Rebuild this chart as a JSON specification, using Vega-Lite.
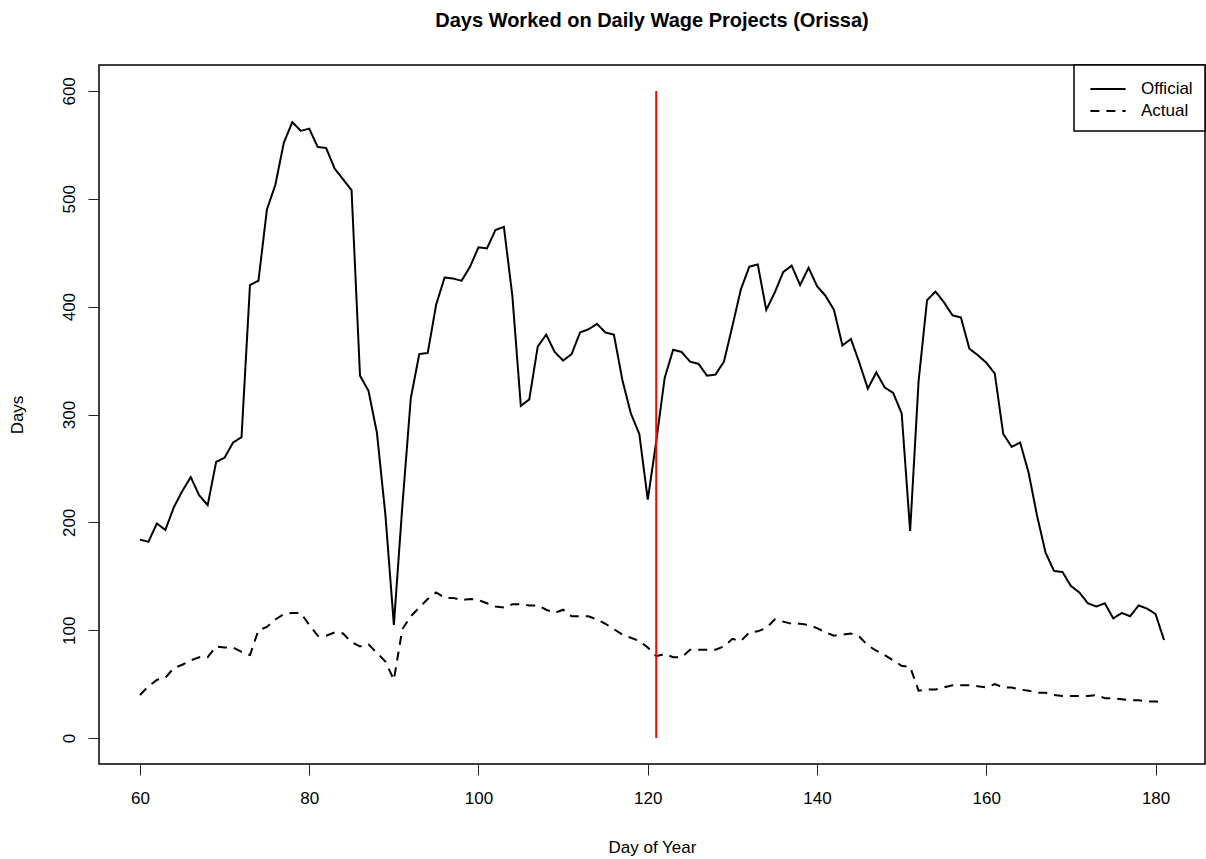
{
  "$schema": "https://vega.github.io/schema/vega-lite/v6.json",
  "width": 1106,
  "height": 699,
  "autosize": {"type": "none"},
  "padding": {"left": 99, "top": 65, "right": 1, "bottom": 95},
  "title": {"text": "Days Worked on Daily Wage Projects (Orissa)", "fontSize": 20, "fontWeight": "bold", "font": "Liberation Sans", "color": "black", "anchor": "middle", "offset": 33},
  "datasets": {
    "series": [
      {"day":60,"series":"Official","value":184},{"day":61,"series":"Official","value":182},{"day":62,"series":"Official","value":199},{"day":63,"series":"Official","value":193},{"day":64,"series":"Official","value":214},{"day":65,"series":"Official","value":229},{"day":66,"series":"Official","value":242},{"day":67,"series":"Official","value":225},{"day":68,"series":"Official","value":216},{"day":69,"series":"Official","value":256},{"day":70,"series":"Official","value":260},{"day":71,"series":"Official","value":274},{"day":72,"series":"Official","value":279},{"day":73,"series":"Official","value":420},{"day":74,"series":"Official","value":424},{"day":75,"series":"Official","value":490},{"day":76,"series":"Official","value":513},{"day":77,"series":"Official","value":552},{"day":78,"series":"Official","value":571},{"day":79,"series":"Official","value":563},{"day":80,"series":"Official","value":565},{"day":81,"series":"Official","value":548},{"day":82,"series":"Official","value":547},{"day":83,"series":"Official","value":528},{"day":84,"series":"Official","value":518},{"day":85,"series":"Official","value":508},{"day":86,"series":"Official","value":336},{"day":87,"series":"Official","value":322},{"day":88,"series":"Official","value":283},{"day":89,"series":"Official","value":207},{"day":90,"series":"Official","value":105},{"day":91,"series":"Official","value":215},{"day":92,"series":"Official","value":315},{"day":93,"series":"Official","value":356},{"day":94,"series":"Official","value":357},{"day":95,"series":"Official","value":402},{"day":96,"series":"Official","value":427},{"day":97,"series":"Official","value":426},{"day":98,"series":"Official","value":424},{"day":99,"series":"Official","value":437},{"day":100,"series":"Official","value":455},{"day":101,"series":"Official","value":454},{"day":102,"series":"Official","value":471},{"day":103,"series":"Official","value":474},{"day":104,"series":"Official","value":410},{"day":105,"series":"Official","value":308},{"day":106,"series":"Official","value":314},{"day":107,"series":"Official","value":363},{"day":108,"series":"Official","value":374},{"day":109,"series":"Official","value":358},{"day":110,"series":"Official","value":350},{"day":111,"series":"Official","value":356},{"day":112,"series":"Official","value":376},{"day":113,"series":"Official","value":379},{"day":114,"series":"Official","value":384},{"day":115,"series":"Official","value":376},{"day":116,"series":"Official","value":374},{"day":117,"series":"Official","value":332},{"day":118,"series":"Official","value":301},{"day":119,"series":"Official","value":282},{"day":120,"series":"Official","value":221},{"day":121,"series":"Official","value":275},{"day":122,"series":"Official","value":334},{"day":123,"series":"Official","value":360},{"day":124,"series":"Official","value":358},{"day":125,"series":"Official","value":349},{"day":126,"series":"Official","value":347},{"day":127,"series":"Official","value":336},{"day":128,"series":"Official","value":337},{"day":129,"series":"Official","value":349},{"day":130,"series":"Official","value":382},{"day":131,"series":"Official","value":416},{"day":132,"series":"Official","value":437},{"day":133,"series":"Official","value":439},{"day":134,"series":"Official","value":397},{"day":135,"series":"Official","value":413},{"day":136,"series":"Official","value":432},{"day":137,"series":"Official","value":438},{"day":138,"series":"Official","value":420},{"day":139,"series":"Official","value":436},{"day":140,"series":"Official","value":419},{"day":141,"series":"Official","value":410},{"day":142,"series":"Official","value":397},{"day":143,"series":"Official","value":364},{"day":144,"series":"Official","value":370},{"day":145,"series":"Official","value":348},{"day":146,"series":"Official","value":324},{"day":147,"series":"Official","value":339},{"day":148,"series":"Official","value":325},{"day":149,"series":"Official","value":320},{"day":150,"series":"Official","value":301},{"day":151,"series":"Official","value":192},{"day":152,"series":"Official","value":331},{"day":153,"series":"Official","value":406},{"day":154,"series":"Official","value":414},{"day":155,"series":"Official","value":404},{"day":156,"series":"Official","value":392},{"day":157,"series":"Official","value":390},{"day":158,"series":"Official","value":361},{"day":159,"series":"Official","value":355},{"day":160,"series":"Official","value":348},{"day":161,"series":"Official","value":338},{"day":162,"series":"Official","value":282},{"day":163,"series":"Official","value":270},{"day":164,"series":"Official","value":274},{"day":165,"series":"Official","value":246},{"day":166,"series":"Official","value":206},{"day":167,"series":"Official","value":172},{"day":168,"series":"Official","value":155},{"day":169,"series":"Official","value":154},{"day":170,"series":"Official","value":141},{"day":171,"series":"Official","value":135},{"day":172,"series":"Official","value":125},{"day":173,"series":"Official","value":122},{"day":174,"series":"Official","value":125},{"day":175,"series":"Official","value":111},{"day":176,"series":"Official","value":116},{"day":177,"series":"Official","value":113},{"day":178,"series":"Official","value":123},{"day":179,"series":"Official","value":120},{"day":180,"series":"Official","value":115},{"day":181,"series":"Official","value":91},
      {"day":60,"series":"Actual","value":40},{"day":61,"series":"Actual","value":48},{"day":62,"series":"Actual","value":54},{"day":63,"series":"Actual","value":56},{"day":64,"series":"Actual","value":65},{"day":65,"series":"Actual","value":68},{"day":66,"series":"Actual","value":72},{"day":67,"series":"Actual","value":75},{"day":68,"series":"Actual","value":75},{"day":69,"series":"Actual","value":85},{"day":70,"series":"Actual","value":84},{"day":71,"series":"Actual","value":84},{"day":72,"series":"Actual","value":80},{"day":73,"series":"Actual","value":77},{"day":74,"series":"Actual","value":100},{"day":75,"series":"Actual","value":103},{"day":76,"series":"Actual","value":110},{"day":77,"series":"Actual","value":115},{"day":78,"series":"Actual","value":116},{"day":79,"series":"Actual","value":116},{"day":80,"series":"Actual","value":105},{"day":81,"series":"Actual","value":95},{"day":82,"series":"Actual","value":95},{"day":83,"series":"Actual","value":98},{"day":84,"series":"Actual","value":97},{"day":85,"series":"Actual","value":89},{"day":86,"series":"Actual","value":85},{"day":87,"series":"Actual","value":87},{"day":88,"series":"Actual","value":79},{"day":89,"series":"Actual","value":71},{"day":90,"series":"Actual","value":54},{"day":91,"series":"Actual","value":101},{"day":92,"series":"Actual","value":113},{"day":93,"series":"Actual","value":121},{"day":94,"series":"Actual","value":129},{"day":95,"series":"Actual","value":135},{"day":96,"series":"Actual","value":130},{"day":97,"series":"Actual","value":130},{"day":98,"series":"Actual","value":128},{"day":99,"series":"Actual","value":129},{"day":100,"series":"Actual","value":128},{"day":101,"series":"Actual","value":125},{"day":102,"series":"Actual","value":122},{"day":103,"series":"Actual","value":121},{"day":104,"series":"Actual","value":124},{"day":105,"series":"Actual","value":124},{"day":106,"series":"Actual","value":123},{"day":107,"series":"Actual","value":123},{"day":108,"series":"Actual","value":119},{"day":109,"series":"Actual","value":116},{"day":110,"series":"Actual","value":119},{"day":111,"series":"Actual","value":113},{"day":112,"series":"Actual","value":113},{"day":113,"series":"Actual","value":113},{"day":114,"series":"Actual","value":110},{"day":115,"series":"Actual","value":106},{"day":116,"series":"Actual","value":101},{"day":117,"series":"Actual","value":96},{"day":118,"series":"Actual","value":93},{"day":119,"series":"Actual","value":90},{"day":120,"series":"Actual","value":84},{"day":121,"series":"Actual","value":76},{"day":122,"series":"Actual","value":78},{"day":123,"series":"Actual","value":75},{"day":124,"series":"Actual","value":75},{"day":125,"series":"Actual","value":82},{"day":126,"series":"Actual","value":82},{"day":127,"series":"Actual","value":82},{"day":128,"series":"Actual","value":82},{"day":129,"series":"Actual","value":85},{"day":130,"series":"Actual","value":92},{"day":131,"series":"Actual","value":90},{"day":132,"series":"Actual","value":98},{"day":133,"series":"Actual","value":99},{"day":134,"series":"Actual","value":102},{"day":135,"series":"Actual","value":110},{"day":136,"series":"Actual","value":108},{"day":137,"series":"Actual","value":106},{"day":138,"series":"Actual","value":106},{"day":139,"series":"Actual","value":105},{"day":140,"series":"Actual","value":102},{"day":141,"series":"Actual","value":98},{"day":142,"series":"Actual","value":95},{"day":143,"series":"Actual","value":96},{"day":144,"series":"Actual","value":97},{"day":145,"series":"Actual","value":94},{"day":146,"series":"Actual","value":86},{"day":147,"series":"Actual","value":81},{"day":148,"series":"Actual","value":77},{"day":149,"series":"Actual","value":72},{"day":150,"series":"Actual","value":67},{"day":151,"series":"Actual","value":66},{"day":152,"series":"Actual","value":44},{"day":153,"series":"Actual","value":45},{"day":154,"series":"Actual","value":45},{"day":155,"series":"Actual","value":47},{"day":156,"series":"Actual","value":49},{"day":157,"series":"Actual","value":49},{"day":158,"series":"Actual","value":49},{"day":159,"series":"Actual","value":48},{"day":160,"series":"Actual","value":47},{"day":161,"series":"Actual","value":50},{"day":162,"series":"Actual","value":47},{"day":163,"series":"Actual","value":47},{"day":164,"series":"Actual","value":45},{"day":165,"series":"Actual","value":44},{"day":166,"series":"Actual","value":42},{"day":167,"series":"Actual","value":42},{"day":168,"series":"Actual","value":40},{"day":169,"series":"Actual","value":39},{"day":170,"series":"Actual","value":39},{"day":171,"series":"Actual","value":39},{"day":172,"series":"Actual","value":39},{"day":173,"series":"Actual","value":40},{"day":174,"series":"Actual","value":37},{"day":175,"series":"Actual","value":37},{"day":176,"series":"Actual","value":36},{"day":177,"series":"Actual","value":35},{"day":178,"series":"Actual","value":35},{"day":179,"series":"Actual","value":34},{"day":180,"series":"Actual","value":34},{"day":181,"series":"Actual","value":33}
    ],
    "marker": [{"day": 121, "lo": 0, "hi": 600}]
  },
  "layer": [
    {
      "data": {"name": "series"},
      "mark": {"type": "line", "color": "black", "strokeWidth": 2, "clip": true},
      "encoding": {
        "x": {"field": "day", "type": "quantitative", "scale": {"domain": [55.16, 185.84], "nice": false, "zero": false},
              "axis": {"values": [60, 80, 100, 120, 140, 160, 180], "title": "Day of Year"}},
        "y": {"field": "value", "type": "quantitative", "scale": {"domain": [-24, 624], "nice": false, "zero": false},
              "axis": {"values": [0, 100, 200, 300, 400, 500, 600], "title": "Days", "labelAngle": -90}},
        "strokeDash": {"field": "series", "type": "nominal",
                       "scale": {"domain": ["Official", "Actual"], "range": [[1, 0], [9, 7]]},
                       "legend": {"title": null, "orient": "top-right", "offset": 0}}
      }
    },
    {
      "data": {"name": "marker"},
      "mark": {"type": "rule", "color": "#ff0000", "strokeWidth": 2},
      "encoding": {
        "x": {"field": "day", "type": "quantitative"},
        "y": {"field": "lo", "type": "quantitative"},
        "y2": {"field": "hi"}
      }
    }
  ],
  "config": {
    "font": "Liberation Sans",
    "view": {"stroke": "black", "strokeWidth": 1.5},
    "axis": {
      "grid": false,
      "domain": false,
      "tickSize": 11,
      "tickColor": "#222",
      "tickWidth": 1,
      "labelFontSize": 17,
      "labelColor": "black",
      "labelFont": "Liberation Sans",
      "titleFont": "Liberation Sans",
      "titleFontSize": 17,
      "titleFontWeight": "normal",
      "titleColor": "black"
    },
    "axisX": {"labelPadding": 15, "titlePadding": 33},
    "axisY": {"labelPadding": 10, "titlePadding": 34},
    "legend": {
      "fillColor": "white",
      "strokeColor": "black",
      "strokeWidth": 1.5,
      "padding": 12,
      "rowPadding": 2,
      "labelFontSize": 17,
      "labelColor": "black",
      "labelFont": "Liberation Sans",
      "symbolType": "M-1.6,0H1.6",
      "symbolSize": 484,
      "symbolStrokeWidth": 2,
      "symbolStrokeColor": "black",
      "symbolOffset": 10,
      "labelOffset": 21
    }
  }
}
